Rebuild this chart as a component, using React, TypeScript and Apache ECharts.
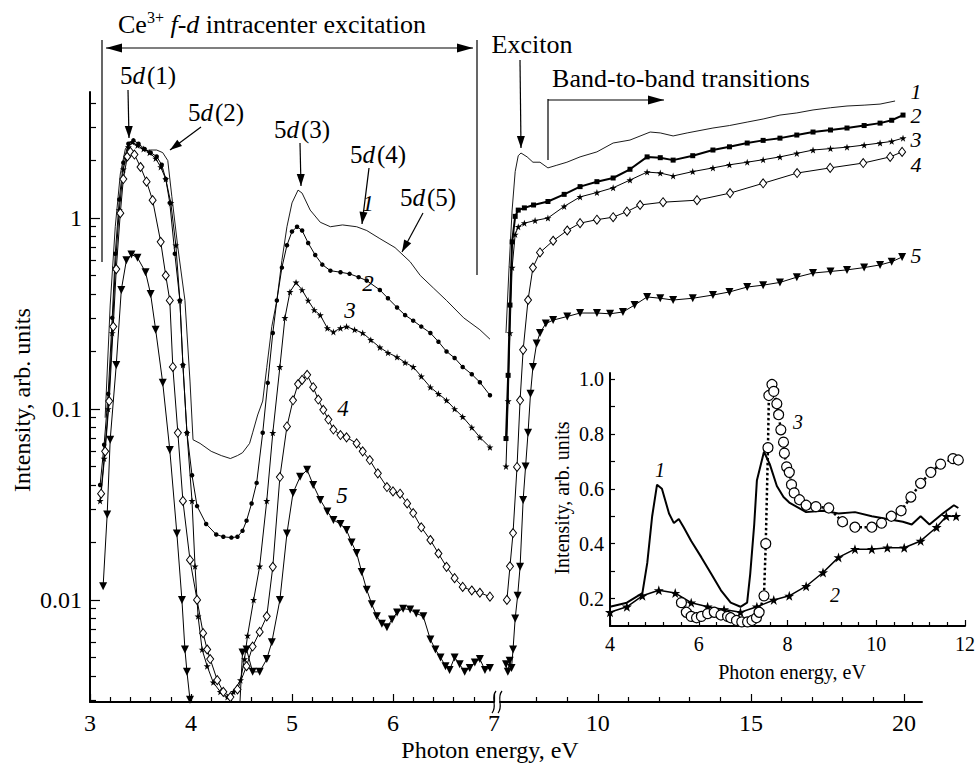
import React, { useEffect, useRef } from "react";
import * as echarts from "echarts";

const FONT = "Liberation Serif";

// ---------- Main plot, left section (3–7 eV): [photon energy eV, intensity] ----------
const curve1Left = [[3.15,0.09],[3.2,0.35],[3.25,0.9],[3.3,1.7],[3.35,2.3],[3.4,2.5],[3.47,2.4],[3.54,2.25],[3.6,2.27],[3.66,2.27],[3.72,2.2],[3.77,2.0],[3.81,1.3],[3.87,0.7],[3.94,0.37],[3.99,0.14],[4.02,0.069],[4.09,0.066],[4.2,0.06],[4.3,0.057],[4.39,0.055],[4.46,0.057],[4.51,0.059],[4.58,0.066],[4.61,0.075],[4.66,0.093],[4.71,0.11],[4.75,0.165],[4.8,0.27],[4.85,0.37],[4.9,0.6],[4.95,0.9],[5.0,1.2],[5.06,1.4],[5.1,1.35],[5.18,1.1],[5.28,0.95],[5.38,0.9],[5.5,0.92],[5.64,0.9],[5.74,0.86],[5.87,0.78],[6.02,0.7],[6.17,0.59],[6.27,0.5],[6.4,0.43],[6.53,0.37],[6.7,0.3],[6.86,0.26],[6.96,0.232]];
const curve2Left = [[3.1,0.04],[3.14,0.065],[3.18,0.12],[3.22,0.3],[3.25,0.65],[3.29,1.25],[3.33,1.95],[3.38,2.45],[3.43,2.55],[3.48,2.45],[3.54,2.3],[3.6,2.2],[3.66,2.1],[3.71,1.9],[3.75,1.6],[3.79,1.2],[3.84,0.65],[3.89,0.37],[3.92,0.17],[3.96,0.075],[4.01,0.045],[4.06,0.031],[4.15,0.025],[4.25,0.022],[4.32,0.0214],[4.4,0.0212],[4.46,0.0214],[4.51,0.023],[4.55,0.026],[4.6,0.032],[4.65,0.041],[4.71,0.075],[4.76,0.137],[4.81,0.25],[4.85,0.37],[4.9,0.55],[4.95,0.72],[5.0,0.85],[5.05,0.9],[5.1,0.86],[5.16,0.74],[5.23,0.64],[5.3,0.57],[5.38,0.53],[5.48,0.52],[5.57,0.51],[5.66,0.49],[5.74,0.47],[5.87,0.42],[5.95,0.38],[6.04,0.34],[6.12,0.31],[6.2,0.29],[6.28,0.27],[6.37,0.25],[6.45,0.225],[6.53,0.2],[6.61,0.185],[6.69,0.166],[6.78,0.152],[6.86,0.138],[6.96,0.118]];
const curve3Left = [[3.1,0.033],[3.14,0.055],[3.18,0.1],[3.22,0.25],[3.25,0.55],[3.29,1.1],[3.33,1.8],[3.38,2.35],[3.42,2.5],[3.47,2.4],[3.53,2.3],[3.59,2.2],[3.65,2.05],[3.7,1.85],[3.75,1.6],[3.8,1.2],[3.85,0.72],[3.89,0.37],[3.92,0.17],[3.96,0.075],[4.01,0.033],[4.04,0.015],[4.07,0.0082],[4.11,0.0055],[4.16,0.0045],[4.22,0.0037],[4.29,0.0033],[4.36,0.0031],[4.42,0.0033],[4.49,0.0038],[4.53,0.0049],[4.56,0.0065],[4.62,0.01],[4.68,0.015],[4.75,0.033],[4.81,0.075],[4.88,0.166],[4.93,0.3],[4.98,0.41],[5.04,0.46],[5.1,0.42],[5.16,0.37],[5.22,0.33],[5.28,0.31],[5.35,0.265],[5.41,0.253],[5.48,0.265],[5.54,0.27],[5.62,0.26],[5.7,0.25],[5.78,0.23],[5.87,0.21],[5.95,0.197],[6.04,0.187],[6.12,0.175],[6.2,0.166],[6.28,0.148],[6.37,0.13],[6.45,0.12],[6.53,0.111],[6.61,0.1],[6.69,0.091],[6.78,0.08],[6.86,0.071],[6.96,0.063]];
const curve4Left = [[3.11,0.036],[3.15,0.06],[3.19,0.11],[3.23,0.27],[3.26,0.54],[3.3,1.06],[3.33,1.6],[3.37,2.1],[3.4,2.22],[3.44,2.15],[3.5,1.85],[3.56,1.55],[3.62,1.24],[3.7,0.75],[3.75,0.5],[3.79,0.37],[3.82,0.166],[3.87,0.075],[3.92,0.033],[3.99,0.0162],[4.06,0.01],[4.12,0.0067],[4.16,0.0055],[4.19,0.0049],[4.26,0.0038],[4.32,0.0033],[4.39,0.0031],[4.46,0.0034],[4.55,0.0045],[4.61,0.0057],[4.68,0.0068],[4.75,0.0082],[4.81,0.0149],[4.88,0.044],[4.95,0.081],[5.01,0.111],[5.06,0.135],[5.1,0.142],[5.15,0.151],[5.21,0.13],[5.26,0.112],[5.31,0.099],[5.36,0.088],[5.41,0.078],[5.48,0.073],[5.54,0.071],[5.64,0.066],[5.7,0.06],[5.77,0.054],[5.85,0.046],[5.94,0.039],[6.0,0.037],[6.07,0.036],[6.14,0.032],[6.2,0.0285],[6.28,0.024],[6.37,0.0206],[6.45,0.0175],[6.53,0.0149],[6.61,0.013],[6.69,0.0117],[6.78,0.0112],[6.86,0.0109],[6.96,0.0104]];
const curve5Left = [[3.13,0.0118],[3.17,0.028],[3.2,0.069],[3.26,0.17],[3.31,0.42],[3.36,0.6],[3.41,0.645],[3.47,0.62],[3.55,0.52],[3.6,0.4],[3.65,0.26],[3.72,0.137],[3.79,0.061],[3.86,0.0223],[3.91,0.01],[3.94,0.0055],[3.96,0.0042],[3.99,0.003],[4.05,0.0022],[4.3,0.0015],[4.48,0.0026],[4.51,0.0053],[4.55,0.0055],[4.61,0.0042],[4.68,0.0042],[4.75,0.0049],[4.8,0.006],[4.88,0.01],[4.95,0.0223],[5.01,0.0363],[5.08,0.0441],[5.15,0.048],[5.21,0.04],[5.28,0.0334],[5.35,0.029],[5.41,0.0262],[5.48,0.025],[5.54,0.0232],[5.59,0.02],[5.64,0.0176],[5.69,0.014],[5.74,0.0113],[5.79,0.0095],[5.84,0.0082],[5.89,0.0075],[5.94,0.0072],[5.99,0.0079],[6.04,0.0086],[6.1,0.009],[6.17,0.0089],[6.23,0.0085],[6.3,0.0082],[6.37,0.0062],[6.42,0.0055],[6.47,0.005],[6.52,0.0045],[6.56,0.0043],[6.61,0.005],[6.66,0.0046],[6.71,0.0042],[6.76,0.0044],[6.81,0.0047],[6.86,0.0049],[6.91,0.0043],[6.96,0.0044]];

// ---------- Main plot, right section (7–20 eV) ----------
const curve1Right = [[7.0,0.25],[7.1,0.55],[7.2,1.1],[7.3,1.75],[7.4,2.12],[7.49,2.19],[7.69,2.09],[7.88,1.96],[8.11,1.96],[8.37,1.83],[8.66,1.89],[8.99,1.96],[9.42,2.09],[9.97,2.22],[10.5,2.47],[11.05,2.56],[11.71,2.82],[12.04,2.79],[12.46,2.69],[12.92,2.79],[13.76,2.96],[14.3,3.05],[14.88,3.18],[15.4,3.3],[15.95,3.46],[16.5,3.55],[17.03,3.68],[17.6,3.78],[18.14,3.86],[18.7,3.9],[19.22,3.95],[19.71,4.1]];
const curve2Right = [[7.0,0.07],[7.07,0.15],[7.13,0.35],[7.2,0.75],[7.3,1.02],[7.4,1.1],[7.6,1.13],[7.9,1.17],[8.37,1.22],[8.9,1.33],[9.42,1.46],[9.97,1.55],[10.5,1.62],[11.05,1.8],[11.61,2.09],[12.04,2.07],[12.46,2.01],[13.1,2.12],[13.76,2.27],[14.3,2.36],[14.88,2.47],[15.4,2.55],[15.95,2.62],[16.5,2.72],[17.03,2.82],[17.6,2.89],[18.14,2.96],[18.7,3.05],[19.22,3.14],[19.6,3.25],[19.97,3.46]];
const curve3Right = [[7.0,0.05],[7.07,0.11],[7.13,0.25],[7.2,0.55],[7.3,0.82],[7.4,0.9],[7.6,0.94],[7.95,0.97],[8.37,1.0],[8.9,1.15],[9.42,1.29],[9.97,1.36],[10.5,1.44],[11.05,1.58],[11.61,1.74],[12.04,1.72],[12.46,1.66],[13.1,1.75],[13.76,1.83],[14.3,1.9],[14.88,1.96],[15.4,2.02],[15.95,2.09],[16.5,2.18],[17.03,2.27],[17.6,2.31],[18.14,2.35],[18.7,2.41],[19.22,2.47],[19.6,2.52],[19.97,2.62]];
const curve4Right = [[7.03,0.01],[7.13,0.015],[7.23,0.0224],[7.36,0.0497],[7.46,0.111],[7.56,0.204],[7.72,0.372],[7.88,0.55],[8.11,0.66],[8.54,0.76],[9.0,0.86],[9.42,0.94],[9.97,0.98],[10.5,1.01],[10.95,1.08],[11.38,1.17],[12.13,1.21],[13.24,1.24],[14.32,1.35],[15.4,1.52],[16.51,1.72],[17.59,1.83],[18.67,1.94],[19.55,2.09],[19.94,2.22]];
const curve5Right = [[7.0,0.0046],[7.06,0.0042],[7.12,0.0048],[7.18,0.0044],[7.23,0.0055],[7.3,0.008],[7.38,0.0105],[7.46,0.0149],[7.56,0.0334],[7.64,0.05],[7.72,0.075],[7.8,0.12],[7.88,0.166],[8.0,0.22],[8.11,0.25],[8.3,0.28],[8.54,0.292],[9.0,0.305],[9.42,0.318],[9.97,0.318],[10.4,0.315],[10.82,0.322],[11.2,0.35],[11.61,0.386],[12.04,0.38],[12.46,0.372],[13.1,0.38],[13.76,0.395],[14.3,0.41],[14.88,0.435],[15.4,0.445],[15.95,0.46],[16.5,0.49],[17.03,0.515],[17.6,0.525],[18.14,0.535],[18.7,0.55],[19.22,0.568],[19.6,0.59],[19.94,0.625]];

// ---------- Inset (linear intensity) ----------
const inset1 = [[4.0,0.17],[4.38,0.185],[4.73,0.22],[4.84,0.33],[4.95,0.5],[5.06,0.615],[5.17,0.6],[5.33,0.51],[5.44,0.475],[5.55,0.49],[5.66,0.46],[5.83,0.41],[6.06,0.35],[6.28,0.29],[6.5,0.23],[6.72,0.185],[6.94,0.17],[7.09,0.185],[7.16,0.29],[7.25,0.47],[7.31,0.63],[7.47,0.735],[7.6,0.69],[7.76,0.61],[7.91,0.57],[8.04,0.55],[8.42,0.515],[8.8,0.52],[9.15,0.51],[9.52,0.515],[9.9,0.5],[10.25,0.49],[10.6,0.48],[10.8,0.47],[11.0,0.5],[11.2,0.47],[11.5,0.51],[11.75,0.54],[11.85,0.53]];
const inset2 = [[4.0,0.15],[4.38,0.17],[4.73,0.21],[5.1,0.23],[5.47,0.22],[5.83,0.185],[6.2,0.17],[6.57,0.16],[6.94,0.15],[7.31,0.17],[7.69,0.195],[8.04,0.21],[8.42,0.245],[8.8,0.295],[9.15,0.35],[9.52,0.38],[9.9,0.38],[10.25,0.385],[10.63,0.385],[11.0,0.41],[11.36,0.46],[11.58,0.5],[11.8,0.5]];
const inset3 = [[5.61,0.185],[5.72,0.15],[5.83,0.135],[5.95,0.13],[6.06,0.135],[6.2,0.145],[6.35,0.15],[6.5,0.14],[6.65,0.135],[6.72,0.13],[6.85,0.12],[6.97,0.115],[7.1,0.115],[7.2,0.12],[7.3,0.13],[7.36,0.15],[7.47,0.21],[7.51,0.4],[7.56,0.75],[7.58,0.94],[7.65,0.98],[7.69,0.955],[7.76,0.91],[7.8,0.87],[7.85,0.815],[7.91,0.77],[7.93,0.73],[7.98,0.68],[8.04,0.66],[8.09,0.615],[8.15,0.585],[8.27,0.56],[8.42,0.54],[8.64,0.535],[8.93,0.53],[9.24,0.48],[9.52,0.46],[9.9,0.46],[10.12,0.475],[10.34,0.5],[10.56,0.52],[10.78,0.57],[11.0,0.62],[11.23,0.66],[11.45,0.69],[11.73,0.71],[11.85,0.705]];

// ---------- Tick values / labels ----------
const mainLeftTicks = [3, 4, 5, 6, 7];
const mainRightLabels = [10, 15, 20];
const mainRightMinor = [8, 9, 11, 12, 13, 14, 16, 17, 18, 19];
const mainYLabels = [0.01, 0.1, 1];
const mainYMinor = [0.003, 0.004, 0.005, 0.006, 0.007, 0.008, 0.009, 0.02, 0.03, 0.04, 0.05, 0.06, 0.07, 0.08, 0.09, 0.2, 0.3, 0.4, 0.5, 0.6, 0.7, 0.8, 0.9, 2, 3, 4];
const insetYLabels = [0.2, 0.4, 0.6, 0.8, 1.0];
const insetYTicks = [0.2, 0.3, 0.4, 0.5, 0.6, 0.7, 0.8, 0.9, 1.0];

const STAR = "path://M50,0L61.8,35.1L98.1,35.1L68.8,57L79.4,91.9L50,70.6L20.6,91.9L31.2,57L1.9,35.1L38.2,35.1Z";

const Y_MIN = 0.00292;
const Y_MAX = 4.57;

function arrowEls(x1: number, y1: number, x2: number, y2: number, both = false, len = 12, half = 4) {
  const els: any[] = [];
  const dx = x2 - x1, dy = y2 - y1;
  const d = Math.sqrt(dx * dx + dy * dy);
  const ux = dx / d, uy = dy / d;
  const px = -uy, py = ux;
  els.push({ type: "line", silent: true, shape: { x1, y1, x2, y2 }, style: { stroke: "#000", lineWidth: 1.2 } });
  const head = (hx: number, hy: number, sx: number, sy: number) => ({
    type: "polygon", silent: true,
    shape: { points: [[hx, hy], [hx - sx * len + px * half, hy - sy * len + py * half], [hx - sx * len - px * half, hy - sy * len - py * half]] },
    style: { fill: "#000" },
  });
  els.push(head(x2, y2, ux, uy));
  if (both) els.push(head(x1, y1, -ux, -uy));
  return els;
}

function txt(x: number, y: number, text: string, size = 22, italic = false, extra: any = {}) {
  return {
    type: "text", silent: true, x, y,
    style: {
      text, fill: "#000", fontFamily: FONT, fontSize: size, fontStyle: italic ? "italic" : "normal",
      align: "center", verticalAlign: "middle", ...extra,
    },
  };
}

function fiveD(x: number, y: number, n: string) {
  return {
    type: "text", silent: true, x, y,
    style: {
      text: `{n|5}{i|d}{n|(${n})}`, align: "center", verticalAlign: "middle", fill: "#000",
      rich: {
        n: { fontFamily: FONT, fontSize: 25, fill: "#000" },
        i: { fontFamily: FONT, fontSize: 25, fontStyle: "italic", fill: "#000", padding: [0, 2, 0, 0] },
      },
    },
  };
}

export default function App() {
  const ref = useRef<HTMLDivElement>(null);
  useEffect(() => {
    if (!ref.current) return;
    const chart = echarts.init(ref.current, undefined, { renderer: "svg" });
    const axisLabelStyle = { color: "#000", fontFamily: FONT, fontSize: 24 };
    const black = "#000";

    const lineSeries = (data: number[][], xi: number, yi: number, opts: any) => ({
      type: "line", data, xAxisIndex: xi, yAxisIndex: yi, clip: true,
      lineStyle: { color: black, width: 1 },
      itemStyle: { color: black },
      ...opts,
    });

    const triangle = { symbol: "triangle", symbolRotate: 180, symbolSize: 8 };
    const diamond = { symbol: "diamond", symbolSize: [7, 9], itemStyle: { color: "#fff", borderColor: black, borderWidth: 1 } };
    const star = { symbol: STAR, symbolSize: 7 };
    const lbl = { lineHeight: 20 };

    const graphic: any[] = [
      // Ce3+ bracket
      {
        type: "text", silent: true, x: 272, y: 24,
        style: {
          text: "{r|Ce}{s|3+}{i| f-d}{r| intracenter excitation}", align: "center", verticalAlign: "middle",
          rich: {
            r: { fontFamily: FONT, fontSize: 26, fill: "#000", lineHeight: 30 },
            s: { fontFamily: FONT, fontSize: 16, fill: "#000", verticalAlign: "top", lineHeight: 30 },
            i: { fontFamily: FONT, fontSize: 26, fontStyle: "italic", fill: "#000", lineHeight: 30 },
          },
        },
      },
      ...arrowEls(106, 48, 473, 48, true, 16, 4.5),
      { type: "line", silent: true, shape: { x1: 102, y1: 40, x2: 102, y2: 262 }, style: { stroke: black, lineWidth: 1.2 } },
      { type: "line", silent: true, shape: { x1: 477, y1: 40, x2: 477, y2: 275 }, style: { stroke: black, lineWidth: 1.2 } },
      // 5d labels
      fiveD(148, 75, "1"), ...arrowEls(128, 90, 129, 138),
      fiveD(216, 112, "2"), ...arrowEls(201, 127, 170, 150),
      fiveD(302, 129, "3"), ...arrowEls(300, 143, 301, 186),
      fiveD(378, 154, "4"), ...arrowEls(369, 168, 362, 224),
      fiveD(428, 197, "5"), ...arrowEls(423, 213, 402, 252),
      // Exciton / band-to-band
      txt(532, 44, "Exciton", 26),
      ...arrowEls(520, 60, 521, 148),
      txt(681, 78, "Band-to-band transitions", 26),
      { type: "line", silent: true, shape: { x1: 548, y1: 99, x2: 548, y2: 160 }, style: { stroke: black, lineWidth: 1.2 } },
      ...arrowEls(548, 100, 664, 100, false, 16, 4.5),
      // curve labels (main)
      txt(368, 203, "1", 23, true, lbl), txt(368, 283, "2", 23, true, lbl), txt(350, 310, "3", 23, true, lbl),
      txt(343, 408, "4", 23, true, lbl), txt(342, 495, "5", 23, true, lbl),
      txt(916, 91, "1", 22, true, lbl), txt(916, 115, "2", 22, true, lbl), txt(916, 139, "3", 22, true, lbl),
      txt(916, 164, "4", 22, true, lbl), txt(916, 255, "5", 22, true, lbl),
      // inset curve labels
      txt(660, 470, "1", 20, true), txt(835, 595, "2", 20, true), txt(798, 422, "3", 20, true),
      // axis names
      txt(490, 750, "Photon energy, eV", 24),
      { ...txt(22, 400, "Intensity, arb. units", 24), rotation: Math.PI / 2 },
      txt(792, 672, "Photon energy, eV", 20),
      { ...txt(562, 498, "Intensity, arb. units", 20), rotation: Math.PI / 2 },
      // axis break
      { type: "rect", silent: true, shape: { x: 494, y: 698, width: 6, height: 8 }, style: { fill: "#fff" } },
      { type: "bezierCurve", silent: true, shape: { x1: 496, y1: 691, x2: 492, y2: 713, cpx1: 490, cpy1: 698, cpx2: 498, cpy2: 706 }, style: { stroke: black, lineWidth: 1.2, fill: "none" } },
      { type: "bezierCurve", silent: true, shape: { x1: 502, y1: 691, x2: 498, y2: 713, cpx1: 496, cpy1: 698, cpx2: 504, cpy2: 706 }, style: { stroke: black, lineWidth: 1.2, fill: "none" } },
    ];

    const option: any = {
      animation: false,
      backgroundColor: "#fff",
      textStyle: { fontFamily: FONT },
      grid: [
        { left: 90, top: 92, width: 404, height: 610 },
        { left: 500, top: 92, width: 422, height: 610 },
        { left: 610, top: 373, width: 362, height: 253 },
      ],
      xAxis: [
        {
          gridIndex: 0, type: "value", position: "bottom", min: 3, max: 7, interval: 1,
          axisLine: { lineStyle: { color: black, width: 2 } },
          axisTick: { inside: true, length: 8, lineStyle: { color: black, width: 1.2 }, customValues: mainLeftTicks },
          minorTick: { show: true, splitNumber: 5, length: 5, lineStyle: { color: black, width: 1.2 } },
          axisLabel: { ...axisLabelStyle, margin: 9, customValues: mainLeftTicks },
          splitLine: { show: false }, minorSplitLine: { show: false },
        },
        {
          gridIndex: 1, type: "value", position: "bottom", min: 6.804, max: 20.59,
          axisLine: { lineStyle: { color: black, width: 2 } },
          axisTick: { inside: true, length: 8, lineStyle: { color: black, width: 1.2 }, customValues: mainRightLabels },
          axisLabel: { ...axisLabelStyle, margin: 9, customValues: mainRightLabels },
          splitLine: { show: false },
        },
        {
          gridIndex: 1, type: "value", position: "bottom", min: 6.804, max: 20.59,
          axisLine: { show: false },
          axisTick: { inside: true, length: 5, lineStyle: { color: black, width: 1.2 }, customValues: mainRightMinor },
          axisLabel: { show: false },
          splitLine: { show: false },
        },
        {
          gridIndex: 2, type: "value", position: "bottom", min: 4, max: 12, interval: 2,
          axisLine: { lineStyle: { color: black, width: 2 } },
          axisTick: { inside: true, length: 6, lineStyle: { color: black, width: 1.2 } },
          minorTick: { show: true, splitNumber: 5, length: 4, lineStyle: { color: black, width: 1.2 } },
          axisLabel: { ...axisLabelStyle, fontSize: 20, margin: 8 },
          splitLine: { show: false }, minorSplitLine: { show: false },
        },
      ],
      yAxis: [
        {
          gridIndex: 0, type: "log", logBase: 10, position: "left", min: Y_MIN, max: Y_MAX,
          axisLine: { show: true, lineStyle: { color: black, width: 2 } },
          axisTick: { show: true, inside: true, length: 10, lineStyle: { color: black, width: 1.2 }, customValues: mainYLabels },
          axisLabel: { ...axisLabelStyle, margin: 8, customValues: mainYLabels, formatter: (v: number) => String(+v.toPrecision(3)) },
          splitLine: { show: false },
        },
        {
          gridIndex: 0, type: "log", logBase: 10, position: "left", min: Y_MIN, max: Y_MAX,
          axisLine: { show: false },
          axisTick: { show: true, inside: true, length: 6, lineStyle: { color: black, width: 1.2 }, customValues: mainYMinor },
          axisLabel: { show: false },
          splitLine: { show: false },
        },
        {
          gridIndex: 1, type: "log", logBase: 10, min: Y_MIN, max: Y_MAX, show: false,
          splitLine: { show: false },
        },
        {
          gridIndex: 2, type: "value", position: "left", min: 0.1, max: 1.022,
          axisLine: { show: true, lineStyle: { color: black, width: 2 } },
          axisTick: { show: true, inside: true, length: 5, lineStyle: { color: black, width: 1.2 }, customValues: insetYTicks },
          axisLabel: { ...axisLabelStyle, fontSize: 20, margin: 6, customValues: insetYLabels, formatter: (v: number) => v.toFixed(1) },
          splitLine: { show: false },
        },
      ],
      series: [
        lineSeries(curve1Left, 0, 0, { symbol: "none", lineStyle: { color: black, width: 0.9 } }),
        lineSeries(curve2Left, 0, 0, { symbol: "circle", symbolSize: 4.5 }),
        lineSeries(curve3Left, 0, 0, star),
        lineSeries(curve4Left, 0, 0, diamond),
        lineSeries(curve5Left, 0, 0, triangle),
        lineSeries(curve1Right, 1, 2, { symbol: "none", lineStyle: { color: black, width: 0.9 } }),
        lineSeries(curve2Right, 1, 2, { symbol: "rect", symbolSize: 5, lineStyle: { color: black, width: 2 } }),
        lineSeries(curve3Right, 1, 2, star),
        lineSeries(curve4Right, 1, 2, diamond),
        lineSeries(curve5Right, 1, 2, triangle),
        lineSeries(inset1, 3, 3, { symbol: "none", lineStyle: { color: black, width: 2 } }),
        lineSeries(inset2, 3, 3, { symbol: STAR, symbolSize: 10, lineStyle: { color: black, width: 1.5 } }),
        lineSeries(inset3, 3, 3, { symbol: "circle", symbolSize: 10, itemStyle: { color: "#fff", borderColor: black, borderWidth: 1.2 }, lineStyle: { color: black, width: 2.5, type: "dotted" } }),
      ],
      graphic,
    };
    chart.setOption(option);
    return () => chart.dispose();
  }, []);

  return <div ref={ref} style={{ position: "fixed", left: 0, top: 0, width: 978, height: 767, background: "#fff" }} />;
}
